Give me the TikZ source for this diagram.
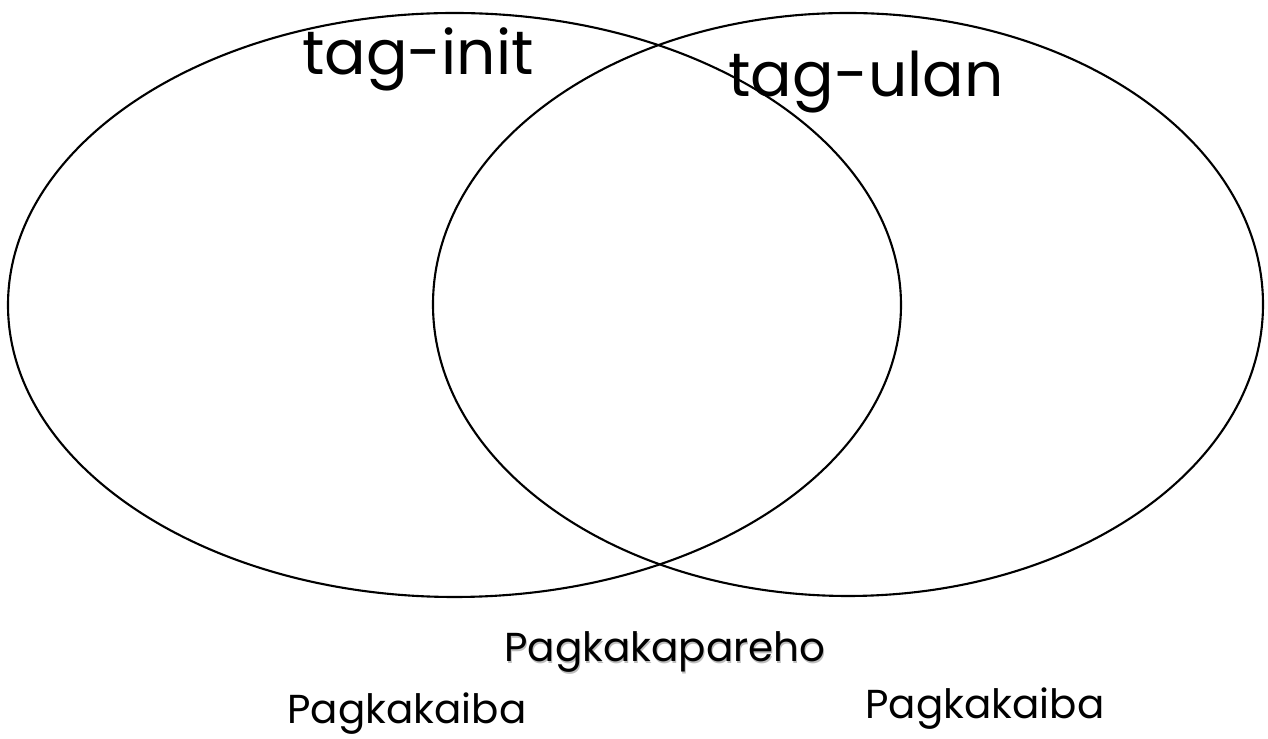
\documentclass[tikz,border=0pt]{standalone}
\usepackage{fontspec}
\setmainfont{Poppins}
\usepackage{xcolor}
\usepackage{tikz}
\usetikzlibrary{positioning}
\definecolor{vnInk}{HTML}{000000}
\definecolor{vnShadow}{HTML}{BDBDBD}
\tikzset{
  vn diagram/.style={text=vnInk, line cap=round, line join=round},
  vn set/.style={draw=vnInk, line width=1.2pt},
  vn title/.style={font=\fontsize{35}{40}\selectfont, anchor=base, inner sep=0pt},
  vn label/.style={font=\fontsize{23}{27}\selectfont, anchor=base, inner sep=0pt},
  vn shadow/.style={vn label, text=vnShadow}
}
\begin{document}
\begin{tikzpicture}[vn diagram]
\useasboundingbox (0,0) rectangle (25.36,14.78);
% the two sets
\draw[vn set] (9.09,8.68) ellipse [x radius=8.93, y radius=5.84];
\draw[vn set] (16.96,8.69) ellipse [x radius=8.30, y radius=5.83];
% set names
\node[vn title] (tagInit) at (8.36,13.28) {tag-init};
\node[vn title] (tagUlan) at (17.32,12.84) {tag-ulan};
% region captions
\node[vn shadow] at (13.32,1.515) {Pagkakapareho};
\node[vn label] (pareho) at (13.30,1.54) {Pagkakapareho};
\node[vn label] (ibaLeft) at (8.14,0.30) {Pagkakaiba};
\node[vn label] (ibaRight) at (19.70,0.40) {Pagkakaiba};
\end{tikzpicture}
\end{document}
